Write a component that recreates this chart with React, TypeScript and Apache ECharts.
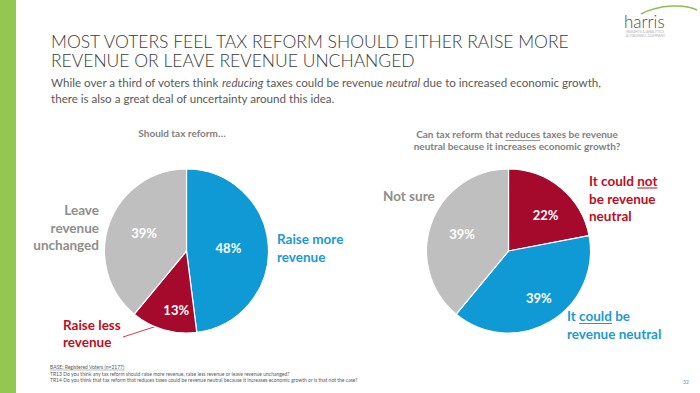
import React, { useEffect, useRef } from "react";
import * as echarts from "echarts";

const leftCategories = ["Raise more revenue", "Raise less revenue", "Leave revenue unchanged"];
const leftValues = [48, 13, 39];
const rightCategories = ["It could not be revenue neutral", "It could be revenue neutral", "Not sure"];
const rightValues = [22, 39, 39];

const BLUE = "#0f9ad6";
const RED = "#a50a2d";
const GRAY = "#bfbfbf";
const T_BLUE = "#1b9ad6";
const T_RED = "#c00d1e";
const T_GRAY = "#8e8e8e";
const FONT = "Lato";
const LS = 13.5;

function measure(text: string, font: string): number {
  const c = document.createElement("canvas");
  const ctx = c.getContext("2d")!;
  ctx.font = font;
  return ctx.measureText(text).width;
}

export default function App() {
  const ref = useRef<HTMLDivElement>(null);
  useEffect(() => {
    document.body.style.margin = "0";
    const chart = echarts.init(ref.current!, undefined, { renderer: "svg" });

    const lblFont = `bold ${LS}px ${FONT}`;
    const notX0 = 589 + measure("It could ", lblFont);
    const notX1 = notX0 + measure("not", lblFont);
    const couldX0 = 567 + measure("It ", lblFont);
    const couldX1 = couldX0 + measure("could", lblFont);
    const subFont = `bold 10px ${FONT}`;
    const subLine = "Can tax reform that reduces taxes be revenue";
    const subStart = 517 - measure(subLine, subFont) / 2;
    const redX0 = subStart + measure("Can tax reform that ", subFont);
    const redX1 = redX0 + measure("reduces", subFont);
    const footFont = `5px ${FONT}`;
    const baseW = measure("BASE: Registered Voters (n=2177)", footFont);

    const leftOffsets = [[-2, 0], [2, 17], [-1, -3]];
    const rightOffsets = [[9, -2], [8, 9], [-5, -2]];

    const pieLabel = {
      show: true,
      position: "inside",
      formatter: "{c}%",
      color: "#ffffff",
      fontFamily: FONT,
      fontWeight: "bold",
      fontSize: 13,
    };

    const lbl = (text: string, x: number, y: number, fill: string, align = "left", size = LS, weight: any = "bold", lh = 17.5, rich?: any) => ({
      type: "text",
      silent: true,
      style: {
        text,
        x,
        y,
        fill,
        align,
        verticalAlign: "middle",
        fontFamily: FONT,
        fontSize: size,
        fontWeight: weight,
        lineHeight: lh,
        rich,
      },
    });
    const uline = (x1: number, y: number, x2: number, stroke: string, w = 1) => ({
      type: "line",
      silent: true,
      shape: { x1, y1: y, x2, y2: y },
      style: { stroke, lineWidth: w },
    });

    const subRich = {
      n: { fontFamily: FONT, fontSize: 11.6, fill: "#595959", lineHeight: 16 },
      i: { fontFamily: FONT, fontSize: 11.6, fontStyle: "italic", fill: "#595959", lineHeight: 16 },
    };

    chart.setOption({
      animation: false,
      backgroundColor: "#ffffff",
      series: [
        {
          type: "pie",
          center: [186.5, 251],
          radius: 82,
          startAngle: 90,
          clockwise: true,
          silent: true,
          itemStyle: { borderColor: "#ffffff", borderWidth: 1.2 },
          label: pieLabel,
          labelLine: { show: false },
          labelLayout: (p: any) => ({ dx: leftOffsets[p.dataIndex][0], dy: leftOffsets[p.dataIndex][1] }),
          data: leftCategories.map((n, i) => ({ name: n, value: leftValues[i], itemStyle: { color: [BLUE, RED, GRAY][i] } })),
        },
        {
          type: "pie",
          center: [508.5, 251],
          radius: 82,
          startAngle: 90,
          clockwise: true,
          silent: true,
          itemStyle: { borderColor: "#ffffff", borderWidth: 1.2 },
          label: pieLabel,
          labelLine: { show: false },
          labelLayout: (p: any) => ({ dx: rightOffsets[p.dataIndex][0], dy: rightOffsets[p.dataIndex][1] }),
          data: rightCategories.map((n, i) => ({ name: n, value: rightValues[i], itemStyle: { color: [RED, BLUE, GRAY][i] } })),
        },
      ],
      graphic: [
        { type: "rect", silent: true, shape: { x: 0, y: 0, width: 16, height: 393 }, style: { fill: "#92c850" } },
        lbl("MOST VOTERS FEEL TAX REFORM SHOULD EITHER RAISE MORE\nREVENUE OR LEAVE REVENUE UNCHANGED", 51, 51, "#3a3a3a", "left", 17.5, 300, 19.5),
        lbl("{n|While over a third of voters think }{i|reducing}{n| taxes could be revenue }{i|neutral}{n| due to increased economic growth,}\n{n|there is also a great deal of uncertainty around this idea.}", 51, 90, "#595959", "left", 11.6, "normal", 16, subRich),
        // logo
        {
          type: "bezierCurve",
          silent: true,
          shape: { x1: 641, y1: 14, x2: 697, y2: 10, cpx1: 660, cpy1: 4, cpx2: 685, cpy2: 4 },
          style: { stroke: "#8cc152", lineWidth: 1.5, fill: null },
        },
        lbl("harris", 624, 21, "#4d4d4d", "left", 17, 300, 17),
        lbl("INSIGHTS & ANALYTICS", 626, 32, "#b0b0b0", "left", 3.5, "normal", 4),
        lbl("A STAGWELL COMPANY", 626, 36, "#b0b0b0", "left", 3.5, "normal", 4),
        // chart subtitles
        lbl("Should tax reform…", 182, 133, "#7f7f7f", "center", 10, "bold", 12),
        lbl(subLine + "\nneutral because it increases economic growth?", 517, 140, "#7f7f7f", "center", 10, "bold", 12.5),
        uline(redX0, 140.5, redX1, "#7f7f7f", 0.8),
        // left pie labels
        lbl("Leave\nrevenue\nunchanged", 99, 227.5, T_GRAY, "right"),
        lbl("Raise more\nrevenue", 277, 248, T_BLUE),
        lbl("Raise less\nrevenue", 63, 333.5, T_RED),
        { type: "line", silent: true, shape: { x1: 123, y1: 337, x2: 157, y2: 326 }, style: { stroke: T_RED, lineWidth: 0.8 } },
        // right pie labels
        lbl("Not sure", 383, 196, T_GRAY),
        lbl("It could not\nbe revenue\nneutral", 589, 198.5, T_RED),
        uline(notX0, 188, notX1, T_RED, 1),
        lbl("It could be\nrevenue neutral", 567, 325, T_BLUE),
        uline(couldX0, 323.5, couldX1, T_BLUE, 1),
        // footnotes
        lbl("BASE: Registered Voters (n=2177)", 50, 367, "#595959", "left", 5, "normal", 6),
        uline(50, 370, 50 + baseW, "#595959", 0.4),
        lbl("TR13 Do you think any tax reform should raise more revenue, raise less revenue or leave revenue unchanged?", 50, 373.5, "#595959", "left", 5, "normal", 6),
        lbl("TR14 Do you think that tax reform that reduces taxes could be revenue neutral because it increases economic growth or is that not the case?", 50, 380, "#595959", "left", 5, "normal", 6),
        lbl("32", 683, 382, "#5b8fc9", "left", 5, "normal", 6),
      ],
    });
    return () => chart.dispose();
  }, []);
  return <div ref={ref} style={{ width: 700, height: 393 }} />;
}
